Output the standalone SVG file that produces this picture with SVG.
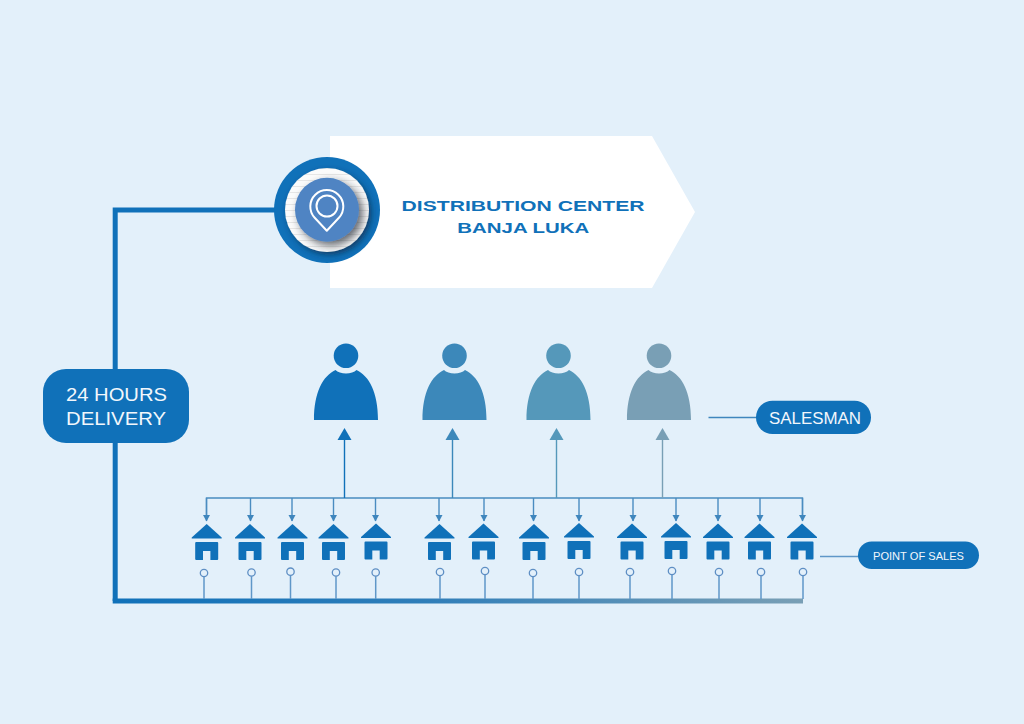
<svg xmlns="http://www.w3.org/2000/svg" xmlns:xlink="http://www.w3.org/1999/xlink" width="1024" height="724" viewBox="0 0 1024 724">
<style>
.t{font-family:"Liberation Sans",Arial,sans-serif;text-anchor:start}
.w{fill:#f2f7fc}
.b{fill:#1071b9;font-weight:bold}
.thin{fill:none;stroke:#4a8cc0;stroke-width:1.4}
.stem{fill:none;stroke:#5f97c8;stroke-width:1.5}
.dot{fill:#e3f0fa;stroke:#5f8fc4;stroke-width:1.3}
.house{fill:#1071b9}
</style>
<defs>
<linearGradient id="bar" gradientUnits="userSpaceOnUse" x1="115" y1="0" x2="803" y2="0"><stop offset="0" stop-color="#1071b9"/><stop offset="0.45" stop-color="#2f7eb9"/><stop offset="1" stop-color="#799fb5"/></linearGradient>
<pattern id="stripes" width="10" height="6" patternUnits="userSpaceOnUse"><rect width="10" height="6" fill="#fbfbfb"/><rect width="10" height="1" fill="#e6e6e6"/></pattern>
<filter id="sh" x="-40%" y="-40%" width="190%" height="190%"><feDropShadow dx="4" dy="4" stdDeviation="4.500" flood-color="#202a35" flood-opacity="0.7"/></filter>
<filter id="sh2" x="-30%" y="-30%" width="170%" height="170%"><feDropShadow dx="2.500" dy="3" stdDeviation="3" flood-color="#0a2f50" flood-opacity="0.7"/></filter>
<marker id="down" markerUnits="userSpaceOnUse" markerWidth="8" markerHeight="8" refX="6" refY="3.500" orient="auto"><path d="M0 0L6.500 3.500L0 7Z" fill="#3f86bd"/></marker>
<g id="h"><path d="M-15 13.500L0 0L15 13.500V14.500H-15Z"/><path fill-rule="evenodd" d="M-10.500 18H10.500Q11.500 18 11.500 19V35Q11.500 36 10.500 36H3.700V27H-3.700V36H-10.500Q-11.500 36 -11.500 35V19Q-11.500 18 -10.500 18Z"/></g>
<path id="p" d="M-10.500 0C-6.500 4.500 6.500 4.500 10.500 0C23 6 32 22 32 50H-32C-32 22 -23 6 -10.500 0Z"/>
</defs>
<rect width="1024" height="724" fill="#e3f0fa"/>
<g id="connectors">
<path d="M275 210H115.200V601" fill="none" stroke="#1071b9" stroke-width="5"/>
<path d="M112.700 601H803" fill="none" stroke="url(#bar)" stroke-width="5"/>
<path class="thin" d="M206.500 516V498H802.500V516"/>
<path class="thin" marker-end="url(#down)" d="M206.500 498V521"/>
<path class="thin" marker-end="url(#down)" d="M250.500 498V521"/>
<path class="thin" marker-end="url(#down)" d="M292 498V521"/>
<path class="thin" marker-end="url(#down)" d="M333.500 498V521"/>
<path class="thin" marker-end="url(#down)" d="M375.500 498V521"/>
<path class="thin" marker-end="url(#down)" d="M439 498V521"/>
<path class="thin" marker-end="url(#down)" d="M484 498V521"/>
<path class="thin" marker-end="url(#down)" d="M533.500 498V521"/>
<path class="thin" marker-end="url(#down)" d="M579 498V521"/>
<path class="thin" marker-end="url(#down)" d="M633 498V521"/>
<path class="thin" marker-end="url(#down)" d="M676 498V521"/>
<path class="thin" marker-end="url(#down)" d="M718 498V521"/>
<path class="thin" marker-end="url(#down)" d="M760 498V521"/>
<path class="thin" marker-end="url(#down)" d="M802.500 498V521"/>
<path d="M344.500 498V440" stroke="#1071b9" stroke-width="1.400" fill="none"/><path d="M337.500 440L344.500 428L351.500 440Z" fill="#1071b9"/>
<path d="M452.500 498V440" stroke="#3c88ba" stroke-width="1.400" fill="none"/><path d="M445.500 440L452.500 428L459.500 440Z" fill="#3c88ba"/>
<path d="M556.500 498V440" stroke="#5598ba" stroke-width="1.400" fill="none"/><path d="M549.500 440L556.500 428L563.500 440Z" fill="#5598ba"/>
<path d="M662.500 498V440" stroke="#799fb5" stroke-width="1.400" fill="none"/><path d="M655.500 440L662.500 428L669.500 440Z" fill="#799fb5"/>
<path d="M708.500 417.500H757" stroke="#3f86bd" stroke-width="1.300" fill="none"/>
<path d="M820 556.500H859" stroke="#5f97c8" stroke-width="1.300" fill="none"/>
<g class="stem"><path d="M204 577V599"/><path d="M251.500 576V599"/><path d="M290.500 575V599"/><path d="M336 576V599"/><path d="M375.700 576V599"/><path d="M440 576V599"/><path d="M485 575V599"/><path d="M533 577V599"/><path d="M579 576V599"/><path d="M630 576V599"/><path d="M672 575V599"/><path d="M719 576V599"/><path d="M761 576V599"/><path d="M803 576V599"/></g>
<g class="dot"><circle cx="204" cy="573" r="3.700"/><circle cx="251.500" cy="572.500" r="3.700"/><circle cx="290.500" cy="571.700" r="3.700"/><circle cx="336" cy="572.500" r="3.700"/><circle cx="375.700" cy="572.500" r="3.700"/><circle cx="440" cy="572" r="3.700"/><circle cx="485" cy="571" r="3.700"/><circle cx="533" cy="573" r="3.700"/><circle cx="579" cy="572" r="3.700"/><circle cx="630" cy="572" r="3.700"/><circle cx="672" cy="571" r="3.700"/><circle cx="719" cy="572" r="3.700"/><circle cx="761" cy="572" r="3.700"/><circle cx="803" cy="572" r="3.700"/></g>
</g>
<g id="distribution-center">
<path d="M330 136H652L695 212L652 288H330Z" fill="#fff"/>
<circle cx="327" cy="210" r="53" fill="#1071b9"/>
<circle cx="327" cy="210" r="42" fill="url(#stripes)" filter="url(#sh2)"/>
<circle cx="327" cy="209.700" r="32" fill="#5084c3" filter="url(#sh)"/>
<path d="M326.800 230.700L314.700 217.750A16.500 16.500 0 1 1 338.900 217.750Z" fill="none" stroke="#fff" stroke-width="2" stroke-linejoin="round"/>
<circle cx="327" cy="206" r="10.500" fill="none" stroke="#fff" stroke-width="2"/>
<text class="t b" x="401.500" y="211" font-size="15.500" textLength="243" lengthAdjust="spacingAndGlyphs">DISTRIBUTION CENTER</text>
<text class="t b" x="457.300" y="233.300" font-size="15.500" textLength="132" lengthAdjust="spacingAndGlyphs">BANJA LUKA</text>
</g>
<g id="delivery"><rect x="43" y="369" width="146" height="74" rx="23" fill="#1071b9"/>
<text class="t w" x="66" y="401" font-size="18" textLength="101" lengthAdjust="spacingAndGlyphs">24 HOURS</text>
<text class="t w" x="66" y="425" font-size="18" textLength="100" lengthAdjust="spacingAndGlyphs">DELIVERY</text></g>
<g id="salesman-1" fill="#1071b9"><circle cx="346" cy="355.700" r="12.300"/><use xlink:href="#p" href="#p" x="346" y="370"/></g>
<g id="salesman-2" fill="#3c88ba"><circle cx="454.500" cy="355.700" r="12.300"/><use xlink:href="#p" href="#p" x="454.500" y="370"/></g>
<g id="salesman-3" fill="#5598ba"><circle cx="558.500" cy="355.700" r="12.300"/><use xlink:href="#p" href="#p" x="558.500" y="370"/></g>
<g id="salesman-4" fill="#799fb5"><circle cx="659" cy="355.700" r="12.300"/><use xlink:href="#p" href="#p" x="659" y="370"/></g>
<g id="salesman-label"><rect x="756" y="400.700" width="115" height="33.300" rx="16.500" fill="#1071b9"/><text class="t w" x="769" y="423.500" font-size="17" textLength="92" lengthAdjust="spacingAndGlyphs">SALESMAN</text></g>
<g id="houses" class="house">
<use xlink:href="#h" href="#h" x="206.700" y="524"/><use xlink:href="#h" href="#h" x="250" y="524"/><use xlink:href="#h" href="#h" x="292.500" y="524"/><use xlink:href="#h" href="#h" x="333.500" y="524"/><use xlink:href="#h" href="#h" x="376" y="523.500"/><use xlink:href="#h" href="#h" x="439.500" y="524"/><use xlink:href="#h" href="#h" x="483.500" y="523.500"/><use xlink:href="#h" href="#h" x="534" y="524"/><use xlink:href="#h" href="#h" x="579" y="523"/><use xlink:href="#h" href="#h" x="632" y="523.500"/><use xlink:href="#h" href="#h" x="676" y="523"/><use xlink:href="#h" href="#h" x="718" y="523.500"/><use xlink:href="#h" href="#h" x="759.500" y="523.500"/><use xlink:href="#h" href="#h" x="802" y="523.500"/>
</g>
<g id="pos-label"><rect x="858" y="541.500" width="121" height="27.500" rx="13.700" fill="#1071b9"/><text class="t w" x="873" y="560" font-size="11" textLength="91" lengthAdjust="spacingAndGlyphs">POINT OF SALES</text></g>
</svg>
